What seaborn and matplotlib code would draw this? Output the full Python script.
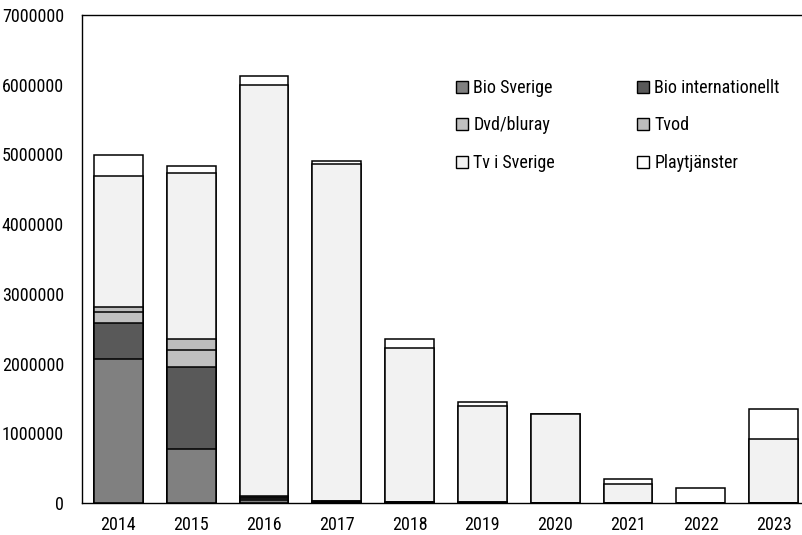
import matplotlib
matplotlib.use("Agg")
import matplotlib.pyplot as plt
from matplotlib.patches import Patch
from matplotlib.ticker import FixedLocator
import numpy as np
import pandas as pd
import seaborn as sns

years = ["2014", "2015", "2016", "2017", "2018", "2019", "2020", "2021", "2022", "2023"]

bio_sverige = [2070000, 770000, 40000, 10000, 5000, 3000, 0, 0, 0, 0]
bio_internationellt = [515000, 1180000, 30000, 10000, 5000, 3000, 0, 0, 0, 0]
dvd_bluray = [155000, 245000, 20000, 8000, 4000, 2000, 0, 0, 0, 0]
tvod = [75000, 155000, 15000, 5000, 3000, 2000, 0, 0, 0, 0]
tv_sverige = [1875000, 2390000, 5885000, 4827000, 2213000, 1380000, 1280000, 277000, 0, 922000]
playtjanster = [300000, 100000, 140000, 50000, 120000, 60000, 0, 67000, 220000, 422000]

series = ["Bio Sverige", "Bio internationellt", "Dvd/bluray", "Tvod", "Tv i Sverige", "Playtjänster"]
colors = ["#808080", "#595959", "#c0c0c0", "#bdbdbd", "#f2f2f2", "#ffffff"]

df = pd.DataFrame({
    "year": years,
    "Bio Sverige": bio_sverige,
    "Bio internationellt": bio_internationellt,
    "Dvd/bluray": dvd_bluray,
    "Tvod": tvod,
    "Tv i Sverige": tv_sverige,
    "Playtjänster": playtjanster,
})

# cumulative tops for stacking
cum = df[series].cumsum(axis=1)

sns.set_style("white")
plt.rcParams["font.family"] = ["Roboto Condensed", "Liberation Sans Narrow", "DejaVu Sans"]
plt.rcParams["font.stretch"] = "condensed"
plt.rcParams["text.color"] = "black"

fig = plt.figure(figsize=(8.02, 5.35), dpi=100)
ax = fig.add_axes([82 / 802, 32 / 535, 728 / 802, 488 / 535])

# draw from the top layer down so every segment shows its own edge
for name, col in reversed(list(zip(series, colors))):
    sns.barplot(x=df["year"], y=cum[name], color=col, saturation=1, width=0.67,
                edgecolor="black", linewidth=1.1, ax=ax)

ax.set_xlim(-0.5, 9.5)
ax.set_ylim(0, 7000000)
ax.set_yticks(np.arange(0, 7000001, 1000000))
ax.set_yticklabels([str(v) for v in range(0, 7000001, 1000000)])
ax.set_xlabel("")
ax.set_ylabel("")

ax.tick_params(axis="y", direction="in", length=6, width=1, pad=13, labelsize=13, colors="black")
ax.tick_params(axis="x", which="major", length=0, pad=9, labelsize=13, colors="black")
ax.xaxis.set_minor_locator(FixedLocator(np.arange(0.5, 9.6, 1)))
ax.tick_params(axis="x", which="minor", direction="inout", length=11, width=1, color="black")

for side in ["left", "bottom", "top", "right"]:
    ax.spines[side].set_visible(True)
    ax.spines[side].set_color("black")
    ax.spines[side].set_linewidth(1)

handles = [Patch(facecolor=c, edgecolor="black", linewidth=1) for c in colors]
# reorder so the legend reads row by row in two columns
order = [0, 2, 4, 1, 3, 5]
ax.legend([handles[i] for i in order], [series[i] for i in order], ncol=2,
          loc="upper left", bbox_to_anchor=(456 / 802, 1 - 79 / 535),
          bbox_transform=fig.transFigure, frameon=False, fontsize=13,
          handlelength=0.65, handleheight=0.65, handletextpad=0.3,
          labelspacing=1.08, columnspacing=4.55, borderpad=0, borderaxespad=0)

fig.savefig("out.png", dpi=100)
